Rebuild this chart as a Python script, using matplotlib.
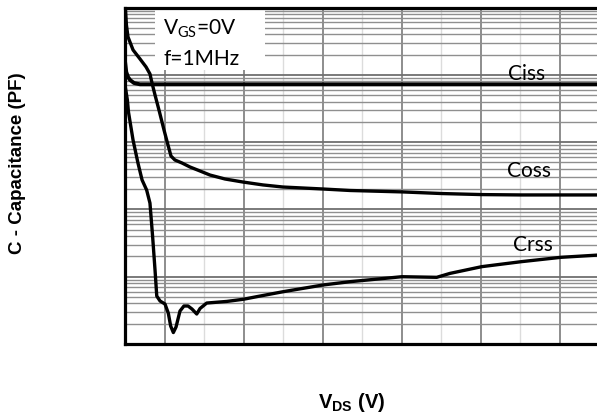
import numpy as np
import matplotlib
matplotlib.use("Agg")
import matplotlib.pyplot as plt
import matplotlib.patches as patches
from matplotlib.ticker import MultipleLocator, LogLocator, NullFormatter

plt.rcParams['mathtext.fontset'] = 'custom'
plt.rcParams['mathtext.rm'] = 'Lato'
plt.rcParams['mathtext.bf'] = 'Liberation Sans:bold'

# Capacitance vs drain-source voltage
ciss_v = [0.02, 0.08, 0.19, 0.32, 0.57, 0.95, 5, 10, 20, 30]
ciss_c = [14500, 11000, 9270, 8370, 7550, 7220, 7220, 7220, 7220, 7220]

coss_v = [0.03, 0.09, 0.19, 0.51, 0.95, 1.33, 1.58, 1.71, 1.90, 2.15, 2.47, 2.72,
          2.91, 3.16, 3.61, 4.11, 4.75, 5.38, 6.33, 7.47, 8.73, 10.0, 12.53,
          14.24, 17.53, 20.06, 22.59, 25.06, 30]
coss_c = [91800, 55000, 36500, 23400, 17200, 13100, 10300, 7550, 5010, 3000, 1510, 906,
          621, 542, 489, 427, 372, 324, 283, 255, 231, 215, 201,
          191, 182, 172, 166, 164, 164]

crss_v = [0.03, 0.15, 0.22, 0.51, 0.82, 1.08, 1.37, 1.58, 1.75, 1.90, 2.01, 2.22,
          2.53, 2.74, 2.89, 3.06, 3.23, 3.48, 3.73, 3.99, 4.24, 4.54, 4.75, 5.17,
          6.44, 7.49, 8.34, 10.0, 12.53, 14.24, 17.53, 19.73, 20.57, 22.58, 25.06,
          27.58, 30]
crss_c = [6370, 4230, 2800, 1070, 489, 274, 194, 124, 38.9, 12.6, 5.16, 4.35,
          3.93, 2.88, 1.85, 1.48, 1.79, 3.09, 3.67, 3.67, 3.31, 2.79, 3.37, 4.06,
          4.29, 4.62, 5.05, 5.98, 7.53, 8.43, 10.0, 9.79, 11.2, 14.1, 16.7,
          19.4, 21.0]

fig = plt.figure(figsize=(5.97, 4.18), dpi=100)
ax = fig.add_axes([125 / 597, 74 / 418, 474 / 597, 336.5 / 418])

ax.set_yscale('log')
ax.set_xlim(0, 30)
ax.set_ylim(1, 1e5)

ax.xaxis.set_major_locator(MultipleLocator(5, offset=2.5))
ax.xaxis.set_minor_locator(MultipleLocator(5))
ax.yaxis.set_major_locator(LogLocator(base=10, numticks=20))
ax.yaxis.set_minor_locator(LogLocator(base=10, subs=np.arange(2, 10), numticks=100))
ax.yaxis.set_minor_formatter(NullFormatter())

ax.set_axisbelow(True)
ax.grid(True, which='major', axis='x', color='#858585', lw=1.3)
ax.grid(True, which='minor', axis='x', color='#dcdcdc', lw=1.0)
ax.grid(True, which='major', axis='y', color='#707070', lw=1.3)
ax.grid(True, which='minor', axis='y', color='#8f8f8f', lw=1.0)
ax.tick_params(which='both', length=0, labelleft=False, labelbottom=False)

for side in ['left', 'top', 'bottom']:
    ax.spines[side].set_linewidth(2.3)
    ax.spines[side].set_color('black')
ax.spines['right'].set_visible(False)

# white box behind the test conditions
box = patches.Rectangle((0.063, 0.814), 0.232, 0.186, transform=ax.transAxes,
                        facecolor='white', edgecolor='none', zorder=1)
ax.add_patch(box)

ax.plot(ciss_v, ciss_c, color='black', lw=2.8, zorder=3, solid_joinstyle='round')
ax.plot(coss_v, coss_c, color='black', lw=2.4, zorder=3, solid_joinstyle='round')
ax.plot(crss_v, crss_c, color='black', lw=2.4, zorder=3, solid_joinstyle='round')

lbl = dict(family='Lato', fontsize=15, color='black', zorder=4, va='baseline', ha='left')
ax.text(24.24, 8370, 'Ciss', **lbl)
ax.text(24.16, 303, 'Coss', **lbl)
ax.text(24.54, 23.7, 'Crss', **lbl)

ax.text(0.081, 0.918, r'$\mathrm{V_{GS}}$=0V', transform=ax.transAxes, **lbl)
ax.text(0.081, 0.829, 'f=1MHz', transform=ax.transAxes, **lbl)

fig.text(18 / 597, 1 - 163 / 418, 'C - Capacitance (PF)', rotation=90,
         family='Liberation Sans', fontweight='bold', fontsize=13.5,
         ha='center', va='center')
fig.text(352 / 597, 1 - 403 / 418, r'$\mathbf{V_{DS}}$ (V)',
         family='Liberation Sans', fontweight='bold', fontsize=14.5,
         ha='center', va='center')

fig.savefig('out.png', dpi=100)
